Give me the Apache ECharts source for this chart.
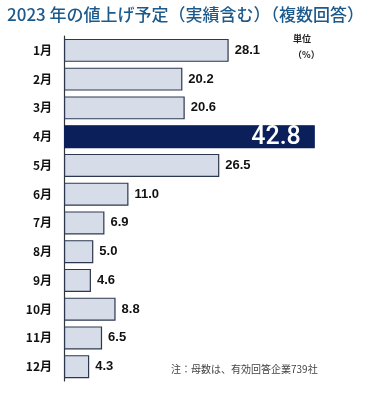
<!DOCTYPE html>
<html><head><meta charset="utf-8">
<script src="https://cdn.jsdelivr.net/npm/echarts@6/dist/echarts.min.js"></script>
<style>html,body{margin:0;padding:0;background:#fff}#c{width:383px;height:401px}</style>
</head><body><div id="c"></div>
<script>
const months = ['1月','2月','3月','4月','5月','6月','7月','8月','9月','10月','11月','12月'];
const values = [28.1, 20.2, 20.6, 42.8, 26.5, 11.0, 6.9, 5.0, 4.6, 8.8, 6.5, 4.3];
const highlightMonth = '4月';
const titleText = '2023 年の値上げ予定（実績含む）（複数回答）';
const unitText = '単位\n（%）';
const noteText = '注：母数は、有効回答企業739社';

const chart = echarts.init(document.getElementById('c'));
const data = values.map((v, i) => {
  const hi = months[i] === highlightMonth;
  return {
    value: v,
    itemStyle: hi ? { color: '#0b1f5a', borderColor: '#0b1f5a' } : {},
    label: hi ? { position: 'insideRight', color: '#fff', fontSize: 25, fontWeight: 500, fontFamily: 'Roboto', offset: [-8, 1] } : {}
  };
});
chart.setOption({
  animation: false,
  title: {
    text: titleText, left: 2, top: 1,
    textStyle: { color: '#1d5a8c', fontSize: 17, fontWeight: 500, fontFamily: 'Noto Sans CJK JP' }
  },
  graphic: [
    { type: 'text', left: 293, top: 31, style: { text: unitText, fill: '#222', font: 'bold 9px "Noto Sans CJK JP"', lineHeight: 16, align: 'left' } },
    { type: 'text', left: 171, top: 364, style: { text: noteText, fill: '#444', font: '10px "Noto Sans CJK JP"' } }
  ],
  grid: { left: 64, right: 26, top: 36, bottom: 20 },
  xAxis: { type: 'value', min: 0, max: 50, show: false },
  yAxis: {
    type: 'category', data: months, inverse: true,
    axisLine: { show: true, lineStyle: { color: '#333', width: 1.2 } },
    axisTick: { show: false },
    axisLabel: { color: '#111', fontWeight: 'bold', fontSize: 12, margin: 12, fontFamily: 'Noto Sans CJK JP' }
  },
  series: [{
    type: 'bar', data: data, barWidth: '80%',
    itemStyle: { color: '#d6dce8', borderColor: '#2c3850', borderWidth: 1.2 },
    label: {
      show: true, position: 'right', distance: 6,
      formatter: p => p.value.toFixed(1),
      color: '#111', fontWeight: 'bold', fontSize: 13, fontFamily: 'Liberation Sans'
    }
  }]
});
</script></body></html>
